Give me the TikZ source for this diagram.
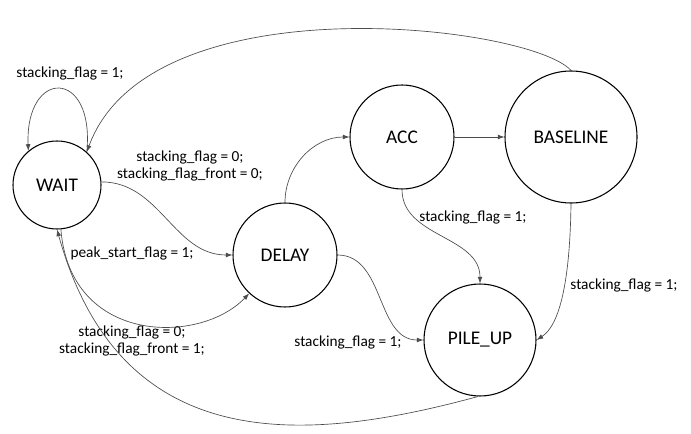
\documentclass[tikz,border=0pt]{standalone}
\usepackage{fontspec}
\setmainfont{Carlito}
\usetikzlibrary{arrows, arrows.meta, automata, positioning}

\begin{document}
\begin{tikzpicture}[
            x=0.75pt, y=-0.75pt,
            >={Latex[length=5pt,width=3.6pt]},
            auto,
            semithick
        ]

        \tikzstyle{every state}=[
            draw=black,
            line width=0.8pt,
            shape=circle,
            inner sep=0pt,
            font=\fontsize{14.5}{16}\selectfont
        ]
        \tikzstyle{trans}=[black!70, line width=0.5pt]
        \tikzstyle{cond}=[align=center, inner sep=0pt,
            font=\fontsize{11.5}{12.75}\selectfont]

        \fill[white] (0,0) rectangle (691,434);
        \useasboundingbox (0,0) rectangle (691,434);

		\node[state, minimum size=66pt] (wait) at (57,185) {WAIT};
		\node[state, minimum size=78pt] (delay) at (285,255) {DELAY};
		\node[state, minimum size=78pt] (acc) at (402,137) {ACC};
		\node[state, minimum size=99pt] (baseline) at (571,137) {BASELINE};
		\node[state, minimum size=84pt] (pile) at (480,340) {PILE\_UP};

		\node[cond] (c_loop) at (70,73) {stacking\_flag = 1;};
		\node[cond] (c_wd0) at (190,166) {stacking\_flag = 0;\\stacking\_flag\_front = 0;};
		\node[cond] (c_peak) at (132,253) {peak\_start\_flag = 1;};
		\node[cond] (c_wd1) at (132,341) {stacking\_flag = 0;\\stacking\_flag\_front = 1;};
		\node[cond] (c_acc) at (473,217) {stacking\_flag = 1;};
		\node[cond] (c_base) at (624,285) {stacking\_flag = 1;};
		\node[cond] (c_delay) at (348,342) {stacking\_flag = 1;};

        \path[trans,->] (wait.4) edge[out=0,in=180] (delay.west);
        \path[trans,->] (delay.north) edge[out=90,in=180] (acc.west);
        \path[trans,->] (acc.east) edge (baseline.west);
        \path[trans,->] (acc.south) edge[out=-90,in=90] (pile.north);
        \path[trans,->] (delay.east) edge[out=0,in=180] (pile.west);

        \draw[trans,->] (wait.48) .. controls (95,68) and (25,68) .. (wait.130);
        \draw[trans,->] (baseline.north) .. controls (530,25) and (150,-20) .. (wait.48);
        \draw[trans,->] (wait.-85) .. controls (70,345) and (200,345) .. (delay.227);
        \draw[trans,->] (pile.-92) .. controls (300,445) and (120,455) .. (wait.-90);
        \draw[trans,->] (baseline.south) .. controls (570,280) and (560,325) .. (pile.east);
    \end{tikzpicture}
\end{document}
